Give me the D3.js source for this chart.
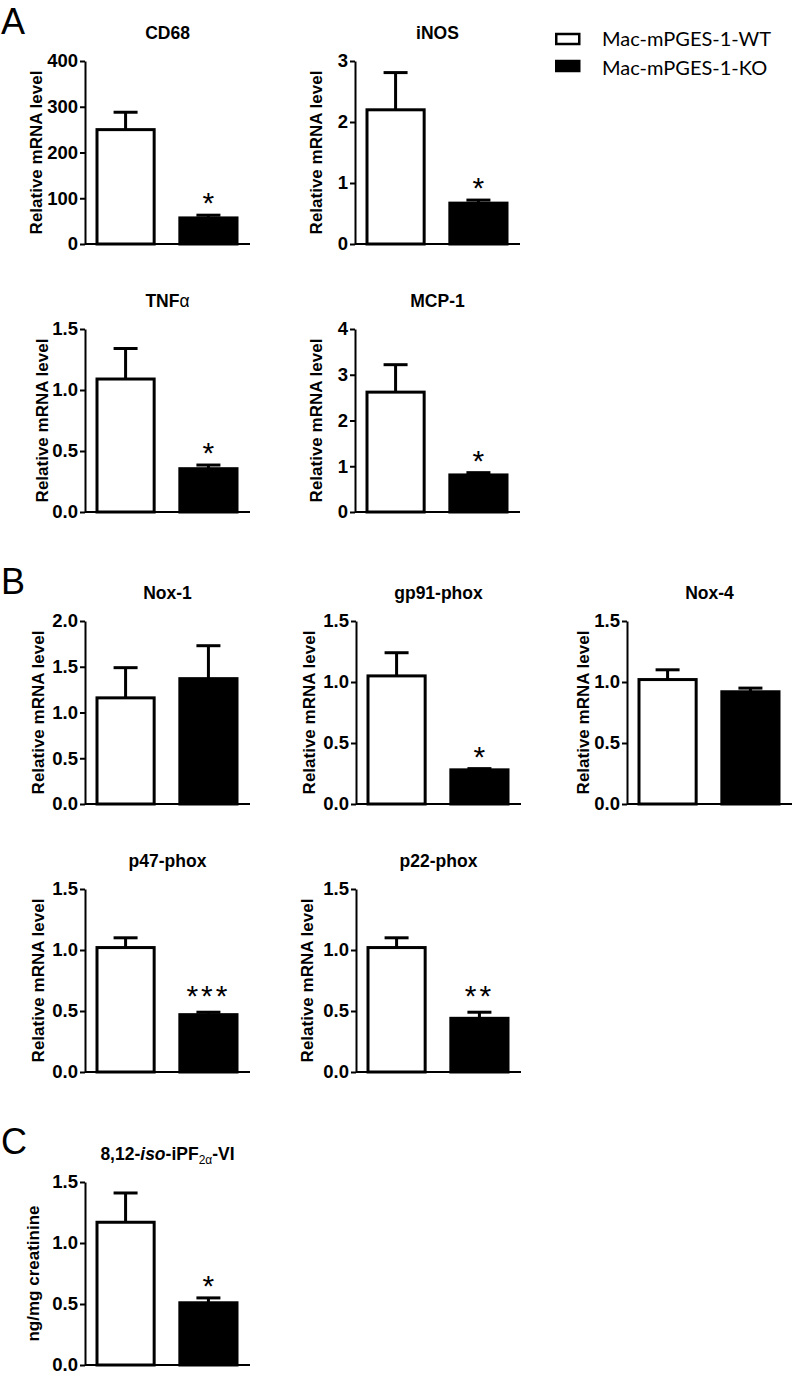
<!DOCTYPE html>
<html>
<head>
<meta charset="utf-8">
<script src="https://cdn.jsdelivr.net/npm/d3@7"></script>
<style>
  body { margin: 0; background: #fff; }
  svg { display: block; }
  text { font-family: "Liberation Sans", Arial, sans-serif; fill: #000; }
</style>
</head>
<body>
<svg id="fig" width="796" height="1374"></svg>
<script>
// data
var genes  = ['CD68', 'iNOS', 'TNFα', 'MCP-1', 'Nox-1', 'gp91-phox', 'Nox-4', 'p47-phox', 'p22-phox', '8,12-iso-iPF2α-VI'];
var groups = ['Mac-mPGES-1-WT', 'Mac-mPGES-1-KO'];
var meanWT = [250, 2.2, 1.09, 2.62, 1.16, 1.05, 1.02, 1.02, 1.02, 1.17];
var semWT  = [38, 0.61, 0.25, 0.6, 0.33, 0.19, 0.08, 0.08, 0.08, 0.24];
var meanKO = [57, 0.67, 0.355, 0.81, 1.37, 0.28, 0.92, 0.47, 0.44, 0.51];
var semKO  = [6, 0.05, 0.03, 0.05, 0.36, 0.01, 0.03, 0.02, 0.05, 0.04];
var stars  = ['*', '*', '*', '*', '', '*', '', '***', '**', '*'];
var yMax   = [400, 3, 1.5, 4, 2, 1.5, 1.5, 1.5, 1.5, 1.5];
var yStep  = [100, 1, 0.5, 1, 0.5, 0.5, 0.5, 0.5, 0.5, 0.5];
var yLabels = ['Relative mRNA level', 'Relative mRNA level', 'Relative mRNA level', 'Relative mRNA level',
               'Relative mRNA level', 'Relative mRNA level', 'Relative mRNA level', 'Relative mRNA level',
               'Relative mRNA level', 'ng/mg creatinine'];

// where each small chart sits (axis x, plot top, label offset)
var layout = [
  {x: 85,  y: 61,   lab: 49}, {x: 355, y: 61,   lab: 39},
  {x: 85,  y: 329,  lab: 43}, {x: 355, y: 329,  lab: 39},
  {x: 85,  y: 621,  lab: 47}, {x: 356, y: 621,  lab: 47}, {x: 627, y: 621, lab: 44},
  {x: 85,  y: 889,  lab: 47}, {x: 356, y: 889,  lab: 49},
  {x: 85,  y: 1182, lab: 52}
];
var W = 165, H = 183;

var svg = d3.select('#fig');

// panel letters
[['A', 34], ['B', 594], ['C', 1154]].forEach(function(p) {
  svg.append('text').attr('x', 1).attr('y', p[1])
    .style('font-size', '36px').text(p[0]);
});

// legend
var leg = svg.append('g').attr('transform', 'translate(555,0)');
groups.forEach(function(g, i) {
  leg.append('rect')
    .attr('x', 1.25).attr('y', 34 + i * 27)
    .attr('width', 23).attr('height', 10)
    .attr('fill', i ? '#000' : '#fff')
    .attr('stroke', '#000').attr('stroke-width', 2.5);
  leg.append('text')
    .attr('x', 47).attr('y', 46 + i * 29)
    .style('font-family', 'Lato, "Open Sans", sans-serif')
    .style('font-size', '20px')
    .text(g);
});

function drawChart(i) {
  var L = layout[i];
  var g = svg.append('g').attr('transform', 'translate(' + L.x + ',' + L.y + ')');

  var y = d3.scaleLinear().domain([0, yMax[i]]).range([H, 0]);
  var x = d3.scaleBand().domain(groups).range([12, 152]).paddingInner(0.31).paddingOuter(0);

  var ticks = d3.range(0, yMax[i] + yStep[i] / 2, yStep[i]);
  var fmt = yStep[i] < 1 ? d3.format('.1f') : d3.format('d');

  var yAxis = g.append('g').call(d3.axisLeft(y).tickValues(ticks).tickFormat(fmt).tickSize(5).tickPadding(2).tickSizeOuter(0));
  yAxis.select('.domain').attr('stroke-width', 2);
  yAxis.selectAll('.tick line').attr('stroke-width', 2);
  yAxis.selectAll('.tick text')
    .style('font-size', '18.5px').style('font-weight', 'bold')
    .attr('font-family', null);

  // x axis line (no ticks)
  g.append('line').attr('x1', 0).attr('x2', W).attr('y1', H).attr('y2', H)
    .attr('stroke', '#000').attr('stroke-width', 2);

  var means = [meanWT[i], meanKO[i]];
  var sems = [semWT[i], semKO[i]];

  // error bars (upper only), drawn behind the bars
  groups.forEach(function(grp, k) {
    var cx = x(grp) + x.bandwidth() / 2;
    var top = y(means[k] + sems[k]);
    g.append('line').attr('x1', cx).attr('x2', cx)
      .attr('y1', y(means[k])).attr('y2', top)
      .attr('stroke', '#000').attr('stroke-width', 3);
    g.append('line').attr('x1', cx - 12).attr('x2', cx + 12)
      .attr('y1', top).attr('y2', top)
      .attr('stroke', '#000').attr('stroke-width', 3);
  });

  g.selectAll('rect.bar').data(groups).enter().append('rect')
    .attr('class', 'bar')
    .attr('x', function(d) { return x(d); })
    .attr('width', x.bandwidth())
    .attr('y', function(d, k) { return y(means[k]); })
    .attr('height', function(d, k) { return H - y(means[k]); })
    .attr('fill', function(d, k) { return k ? '#000' : '#fff'; })
    .attr('stroke', '#000').attr('stroke-width', 3);

  // significance
  if (stars[i]) {
    var cxKO = x(groups[1]) + x.bandwidth() / 2;
    var lift = stars[i].length > 1 ? 6 : 2;
    g.append('text')
      .attr('x', cxKO).attr('y', y(meanKO[i] + semKO[i]) - lift)
      .attr('text-anchor', 'middle')
      .style('font-size', '30px')
      .style('letter-spacing', stars[i].length > 1 ? '3px' : '0px')
      .text(stars[i]);
  }

  // title
  var t = g.append('text').attr('x', W / 2).attr('y', -22)
    .attr('text-anchor', 'middle')
    .style('font-size', '17.5px').style('font-weight', 'bold');
  if (i === 9) {
    t.append('tspan').text('8,12-');
    t.append('tspan').style('font-style', 'italic').text('iso');
    t.append('tspan').text('-iPF');
    t.append('tspan').attr('dy', 4).style('font-size', '12px').style('font-weight', 'normal').text('2α');
    t.append('tspan').attr('dy', -4).text('-VI');
  } else if (genes[i] === 'TNFα') {
    t.append('tspan').text('TNF');
    t.append('tspan').style('font-weight', 'normal').text('α');
  } else {
    t.text(genes[i]);
  }

  // y label
  g.append('text')
    .attr('transform', 'translate(' + (-L.lab + 6) + ',' + (H / 2) + ') rotate(-90)')
    .attr('text-anchor', 'middle')
    .style('font-size', '17px').style('font-weight', 'bold')
    .text(yLabels[i]);
}

genes.forEach(function(d, i) { drawChart(i); });
</script>
</body>
</html>
